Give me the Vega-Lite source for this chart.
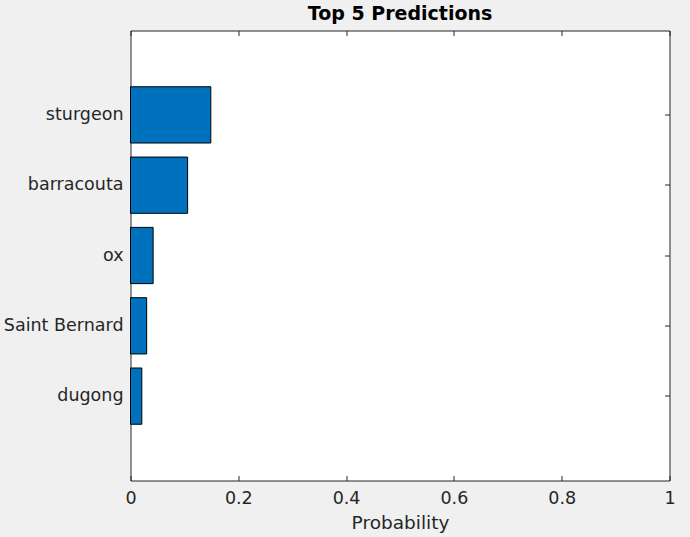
{
  "$schema": "https://vega.github.io/schema/vega-lite/v6.json",
  "width": 539,
  "height": 450,
  "autosize": {"type": "none"},
  "padding": {"left": 130.5, "top": 30.5, "right": 20.5, "bottom": 56.5},
  "background": "#f0f0f0",
  "config": {
    "view": {"fill": "white", "stroke": "#262626", "strokeWidth": 1},
    "font": "DejaVu Sans",
    "axis": {"grid": false, "domain": false, "tickColor": "#262626", "labelColor": "#262626", "titleColor": "#262626", "labelFont": "DejaVu Sans", "titleFont": "DejaVu Sans"}
  },
  "title": {"text": "Top 5 Predictions", "fontSize": 19, "fontWeight": "bold", "color": "#000000", "font": "DejaVu Sans", "offset": 6},
  "data": {
    "values": [
      {"label": "sturgeon", "prob": 0.149},
      {"label": "barracouta", "prob": 0.106},
      {"label": "ox", "prob": 0.042},
      {"label": "Saint Bernard", "prob": 0.030},
      {"label": "dugong", "prob": 0.021}
    ]
  },
  "layer": [
    {
      "mark": {"type": "bar", "color": "#0072BD", "stroke": "#000000", "strokeWidth": 1},
      "encoding": {
        "y": {
          "field": "label", "type": "nominal", "sort": null,
          "scale": {"paddingInner": 0.2, "paddingOuter": 0.8},
          "axis": {"orient": "left", "title": null, "tickSize": -5, "labelPadding": 12.5, "labelFontSize": 17.5}
        },
        "x": {
          "field": "prob", "type": "quantitative",
          "scale": {"domain": [0, 1], "nice": false},
          "axis": {"orient": "bottom", "title": "Probability", "values": [0, 0.2, 0.4, 0.6, 0.8, 1], "format": "~g", "labelFlush": false, "tickSize": -5, "labelPadding": 14, "labelFontSize": 17.5, "titleFontSize": 18.5, "titleFontWeight": "normal", "titlePadding": 6}
        }
      }
    },
    {
      "mark": {"type": "bar", "opacity": 0},
      "encoding": {
        "y": {
          "field": "label", "type": "nominal", "sort": null,
          "axis": {"orient": "right", "title": null, "labels": false, "tickSize": -5}
        },
        "x": {
          "field": "prob", "type": "quantitative",
          "axis": {"orient": "top", "title": null, "labels": false, "values": [0, 0.2, 0.4, 0.6, 0.8, 1], "tickSize": -5}
        }
      }
    }
  ],
  "resolve": {"axis": {"x": "independent", "y": "independent"}}
}
